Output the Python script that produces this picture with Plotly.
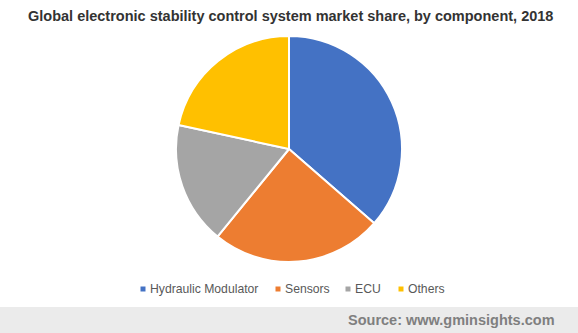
import plotly.graph_objects as go

components = ["Hydraulic Modulator", "Sensors", "ECU", "Others"]
shares = [36.4, 24.5, 17.5, 21.6]
colors = ["#4472C4", "#ED7D31", "#A5A5A5", "#FFC000"]

W, H = 578, 333
cx, cy, r = 289, 149, 113

fig = go.Figure(go.Pie(
    labels=components,
    values=shares,
    sort=False,
    direction="clockwise",
    rotation=0,
    textinfo="none",
    hoverinfo="label+percent",
    marker=dict(colors=colors, line=dict(color="white", width=2)),
    domain=dict(x=[(cx - r) / W, (cx + r) / W], y=[(H - cy - r) / H, (H - cy + r) / H]),
))

# custom compact legend (x positions of marker squares, in pixels)
legend_x = [143, 278, 348, 401]
legend_y = 289
shapes = [dict(type="rect", xref="paper", yref="paper", x0=0, x1=1, y0=0, y1=(H - 307) / H,
               fillcolor="#EBEBEB", line=dict(width=0), layer="below")]
annotations = [
    dict(text="<b>Global electronic stability control system market share, by component, 2018</b>",
         xref="paper", yref="paper", x=290 / W, y=(H - 16) / H, xanchor="center", yanchor="middle",
         showarrow=False, font=dict(size=14.5, color="#333333")),
    dict(text="<b>Source: www.gminsights.com</b>",
         xref="paper", yref="paper", x=557 / W, y=(H - 320) / H, xanchor="right", yanchor="middle",
         showarrow=False, font=dict(size=14.5, color="#7F7F7F")),
]
for name, col, lx in zip(components, colors, legend_x):
    shapes.append(dict(type="rect", xref="paper", yref="paper",
                       x0=(lx - 2.5) / W, x1=(lx + 2.5) / W,
                       y0=(H - legend_y - 2.5) / H, y1=(H - legend_y + 2.5) / H,
                       fillcolor=col, line=dict(width=0)))
    annotations.append(dict(text=name, xref="paper", yref="paper", x=(lx + 5) / W, y=(H - legend_y) / H,
                            xanchor="left", yanchor="middle", showarrow=False,
                            font=dict(size=12.2, color="#595959")))

fig.update_layout(
    width=W, height=H,
    margin=dict(l=0, r=0, t=0, b=0),
    paper_bgcolor="white",
    font=dict(family="Liberation Sans, Arial, sans-serif"),
    showlegend=False,
    shapes=shapes,
    annotations=annotations,
)

fig.write_html("out.html")
